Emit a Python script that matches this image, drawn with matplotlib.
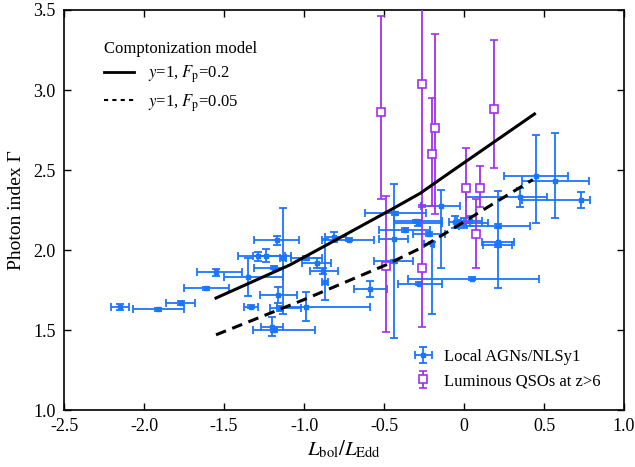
import numpy as np
import matplotlib
matplotlib.use("Agg")
import matplotlib.pyplot as plt
from matplotlib.lines import Line2D

plt.rcParams['font.family'] = ['Liberation Serif', 'DejaVu Serif']
plt.rcParams['mathtext.fontset'] = 'stix'
plt.rcParams['axes.unicode_minus'] = False

# Local AGNs / NLSy1 (blue)
agn_x = [-2.15, -1.91, -1.77, -1.61, -1.55, -1.35, -1.29, -1.24, -1.17, -1.13,
         -1.19, -1.16, -1.33, -1.15, -0.99, -1.20, -1.19, -0.99, -0.92, -0.88,
         -0.87, -0.81, -0.72, -0.59, -0.44, -0.43, -0.30, -0.37, -0.44, -0.146,
         -0.285, -0.056, 0.0, 0.035, -0.22, -0.20, -0.28, 0.05, 0.21, 0.21,
         0.21, 0.35, 0.45, 0.57, 0.73]
agn_y = [1.645, 1.63, 1.67, 1.76, 1.86, 1.83, 1.96, 1.965, 2.06, 1.95,
         1.89, 1.72, 1.645, 1.635, 1.645, 1.52, 1.50, 1.95, 1.92, 1.87,
         1.80, 2.08, 2.065, 1.755, 2.07, 2.23, 2.18, 2.125, 1.93, 2.275,
         2.17, 2.175, 2.17, 2.18, 2.10, 2.04, 1.79, 1.82, 2.05, 2.03,
         2.15, 2.33, 2.46, 2.43, 2.31]
agn_xlo = [0.055, 0.16, 0.09, 0.14, 0.12, 0.15, 0.12, 0.08, 0.14, 0.02,
           0.12, 0.115, 0.045, 0.06, 0.18, 0.07, 0.13, 0.09, 0.09, 0.08,
           0.02, 0.06, 0.17, 0.10, 0.09, 0.19, 0.14, 0.16, 0.12, 0.12,
           0.15, 0.04, 0.03, 0.08, 0.10, 0.05, 0.13, 0.40, 0.10, 0.09,
           0.24, 0.34, 0.20, 0.21, 0.37]
agn_xhi = [0.055, 0.16, 0.09, 0.14, 0.16, 0.22, 0.21, 0.12, 0.14, 0.02,
           0.06, 0.115, 0.045, 0.13, 0.40, 0.07, 0.26, 0.10, 0.09, 0.09,
           0.02, 0.07, 0.16, 0.11, 0.09, 0.19, 0.16, 0.16, 0.12, 0.12,
           0.15, 0.04, 0.15, 0.08, 0.10, 0.01, 0.14, 0.42, 0.10, 0.09,
           0.20, 0.17, 0.20, 0.21, 0.06]
agn_ylo = [0.018, 0.01, 0.012, 0.01, 0.02, 0.12, 0.03, 0.04, 0.03, 0.35,
           0.01, 0.05, 0.01, 0.015, 0.09, 0.06, 0.01, 0.01, 0.03, 0.02,
           0.11, 0.03, 0.01, 0.05, 0.62, 0.01, 0.01, 0.01, 0.01, 0.39,
           0.02, 0.04, 0.03, 0.03, 0.01, 0.44, 0.01, 0.01, 0.29, 0.01,
           0.01, 0.06, 0.29, 0.23, 0.05]
agn_yhi = [0.018, 0.01, 0.012, 0.01, 0.02, 0.12, 0.03, 0.04, 0.03, 0.31,
           0.01, 0.05, 0.01, 0.015, 0.09, 0.06, 0.01, 0.01, 0.03, 0.02,
           0.27, 0.03, 0.01, 0.05, 0.34, 0.01, 0.01, 0.01, 0.01, 0.10,
           0.02, 0.04, 0.03, 0.03, 0.01, 0.01, 0.01, 0.01, 0.32, 0.01,
           0.01, 0.06, 0.26, 0.30, 0.05]

# Luminous QSOs at z>6 (purple)
qso_x = [-0.52, -0.49, -0.26, -0.26, -0.20, -0.18, 0.01, 0.075, 0.10, 0.19]
qso_y = [2.86, 1.90, 3.04, 1.89, 2.60, 2.76, 2.39, 2.10, 2.39, 2.88]
qso_ylo = [0.54, 0.41, 0.76, 0.37, 0.325, 0.535, 0.22, 0.21, 0.12, 0.37]
qso_yhi = [0.60, 0.44, 0.66, 0.38, 0.35, 0.59, 0.25, 0.22, 0.135, 0.43]

# Comptonization model curves
model1_x = [-1.55, -1.09, -0.88, -0.46, -0.275, -0.08, 0.44]
model1_y = [1.70, 1.906, 2.02, 2.25, 2.354, 2.49, 2.85]
model2_x = [-1.55, -1.0, -0.49, -0.275, -0.1, 0.2, 0.43]
model2_y = [1.47, 1.69, 1.906, 2.01, 2.115, 2.30, 2.44]

blue = '#1a75ff'
purple = '#a030f0'

fig = plt.figure(figsize=(6.35, 4.67), dpi=100)
ax = fig.add_axes([0.1008, 0.122, 0.882, 0.8566])

agn = ax.errorbar(agn_x, agn_y, xerr=[agn_xlo, agn_xhi], yerr=[agn_ylo, agn_yhi],
                  fmt='s', ms=2.5, color=blue, ecolor=blue, elinewidth=1.3,
                  capsize=3, capthick=1.3, zorder=2, label='Local AGNs/NLSy1')
qso = ax.errorbar(qso_x, qso_y, yerr=[qso_ylo, qso_yhi],
                  fmt='s', ms=5.5, mfc='white', mec=purple, mew=1.2, color=purple,
                  ecolor=purple, elinewidth=1.3, capsize=3, capthick=1.3,
                  zorder=3, label='Luminous QSOs at z>6')

ax.plot(model1_x, model1_y, color='black', lw=2.2, zorder=4)
ax.plot(model2_x, model2_y, color='black', lw=2.2, ls=(0, (3.5, 2.2)), zorder=4)

ax.set_xlim(-2.5, 1.0)
ax.set_ylim(1.0, 3.5)
ax.set_xticks(np.arange(-2.5, 1.01, 0.5))
ax.set_yticks(np.arange(1.0, 3.51, 0.5))
ax.set_xticklabels(['-2.5', '-2.0', '-1.5', '-1.0', '-0.5', '0', '0.5', '1.0'])
ax.tick_params(direction='in', top=True, right=True, length=5, width=1,
               labelsize=13, pad=6)
for s in ax.spines.values():
    s.set_linewidth(1.2)

ax.set_xlabel(r'$L_{\rm bol}/L_{\rm Edd}$', fontsize=15, labelpad=2)
ax.set_ylabel('Photon index Γ', fontsize=14, labelpad=6)

# model legend (upper left)
h1 = Line2D([], [], color='black', lw=2)
h2 = Line2D([], [], color='black', lw=1.5, ls=(0, (2, 2)))
leg1 = ax.legend([h1, h2], [r'$y$=1, $F_{\rm p}$=0.2', r'$y$=1, $F_{\rm p}$=0.05'],
                 title='Comptonization model', loc='upper left',
                 bbox_to_anchor=(0.045, 0.96), frameon=False, fontsize=12,
                 title_fontsize=12, handlelength=1.8, labelspacing=0.4)
leg1._legend_box.align = 'left'
ax.add_artist(leg1)

ax.legend(handles=[agn, qso], loc='lower right', bbox_to_anchor=(0.985, 0.015),
          frameon=False, fontsize=12, handlelength=1.5, labelspacing=0.5,
          handletextpad=0.5)

fig.savefig('out.png', dpi=100)
